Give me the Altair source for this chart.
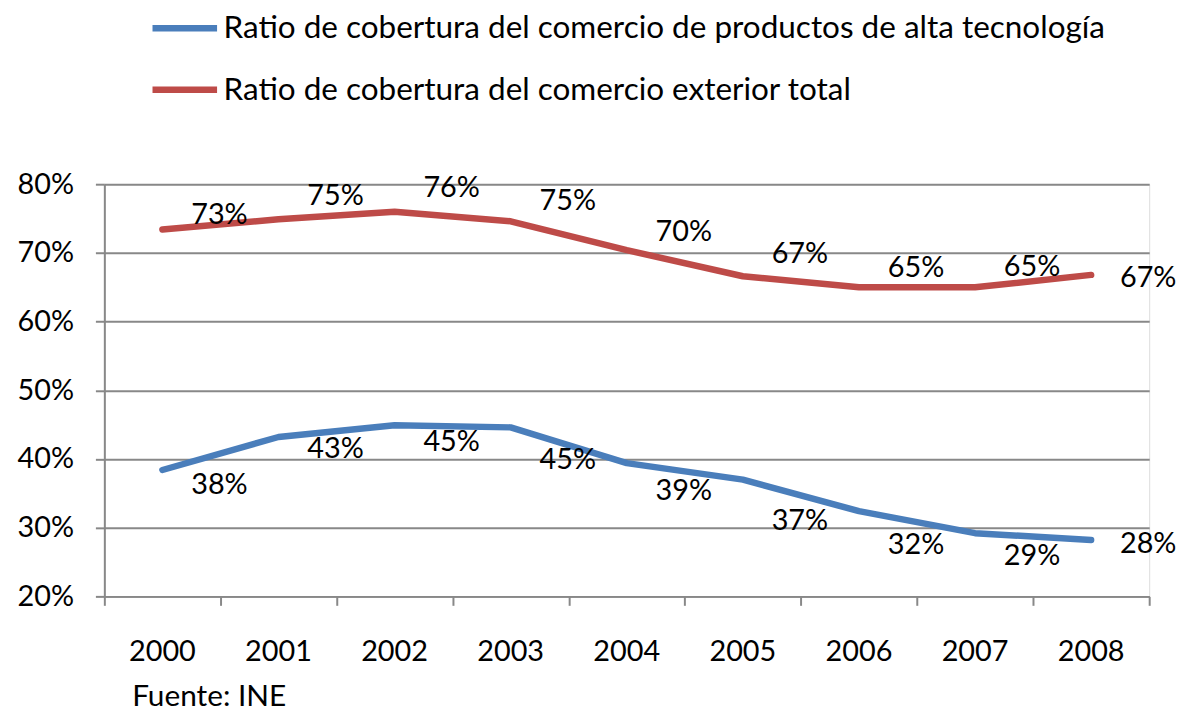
import altair as alt
import pandas as pd

years = [2000, 2001, 2002, 2003, 2004, 2005, 2006, 2007, 2008]
serie_alta = "Ratio de cobertura del comercio de productos de alta tecnología"
serie_total = "Ratio de cobertura del comercio exterior total"
alta = [0.384, 0.432, 0.449, 0.446, 0.394, 0.370, 0.324, 0.292, 0.282]
total = [0.734, 0.749, 0.760, 0.746, 0.704, 0.666, 0.650, 0.650, 0.668]
y_ticks = [0.2, 0.3, 0.4, 0.5, 0.6, 0.7, 0.8]
source_note = "Fuente: INE"

# label placement offsets (pixels, style only; positive = downwards)
alta_label_dy = [15, 12, 17, 33, 28, 42, 34, 23, 4]
total_label_dy = [-15, -23, -24, -20, -18, -22, -19, -20, 3]

rows = []
for i, yr in enumerate(years):
    rows.append({"year": yr, "value": alta[i], "serie": serie_alta, "dy": alta_label_dy[i]})
for i, yr in enumerate(years):
    rows.append({"year": yr, "value": total[i], "serie": serie_total, "dy": total_label_dy[i]})
df = pd.DataFrame(rows)
df_years = pd.DataFrame({"year": years})

FONT = "Lato"
FS = 29
GRID = "#888888"
PLOT_W = 1052
PLOT_H = 415
Y_MIN, Y_MAX = 0.2, 0.8
PX_PER_UNIT = PLOT_H / (Y_MAX - Y_MIN)

x_ticks = [y - 0.5 for y in years] + [years[-1] + 0.5]

x_axis = alt.Axis(
    values=x_ticks, grid=False, title=None, labels=False,
    tickSize=9, tickWidth=2, tickColor=GRID,
    domainColor=GRID, domainWidth=2,
)
y_axis = alt.Axis(
    values=y_ticks, format=".0%", title=None,
    labelFont=FONT, labelFontSize=FS, labelColor="black", labelPadding=22,
    grid=True, gridColor=GRID, gridWidth=2,
    tickSize=9, tickWidth=2, tickColor=GRID,
    domainColor=GRID, domainWidth=2,
)
x_scale = alt.Scale(domain=[years[0] - 0.5, years[-1] + 0.5], nice=False, zero=False)
y_scale = alt.Scale(domain=[Y_MIN, Y_MAX], nice=False, zero=False)

lines = alt.Chart(df).mark_line(strokeWidth=6.5, strokeCap="round", strokeJoin="round").encode(
    x=alt.X("year:Q", scale=x_scale, axis=x_axis),
    y=alt.Y("value:Q", scale=y_scale, axis=y_axis),
    color=alt.Color(
        "serie:N",
        scale=alt.Scale(domain=[serie_alta, serie_total], range=["#4a7ebb", "#be4b48"]),
        sort=[serie_alta, serie_total],
        legend=alt.Legend(
            orient="none", legendX=45, legendY=-193, title=None,
            symbolType="stroke", symbolSize=4225, symbolStrokeWidth=6.5,
            labelFont=FONT, labelFontSize=31.7, labelColor="black", labelLimit=1200,
            labelOffset=3, rowPadding=9, padding=0, direction="vertical",
        ),
    ),
)

labels = alt.Chart(df).transform_calculate(
    xl="datum.year + 0.5",
    ly=f"datum.value - datum.dy / {PX_PER_UNIT}",
).mark_text(
    font=FONT, fontSize=FS, color="black", align="center", baseline="middle", dx=-1
).encode(
    x=alt.X("xl:Q", scale=x_scale, axis=x_axis),
    y=alt.Y("ly:Q", scale=y_scale, axis=y_axis),
    text=alt.Text("value:Q", format=".0%"),
)

year_labels = alt.Chart(df_years).mark_text(
    font=FONT, fontSize=FS, color="black", align="center", baseline="middle", dy=56
).encode(
    x=alt.X("year:Q", scale=x_scale, axis=x_axis),
    y=alt.datum(Y_MIN),
    text=alt.Text("year:Q", format="d"),
)

chart = alt.layer(lines, labels, year_labels).properties(
    width=PLOT_W, height=PLOT_H,
    padding={"left": 97, "top": 175, "right": 28, "bottom": 114},
    autosize="none",
    title=alt.TitleParams(
        source_note, orient="bottom", anchor="start", frame="group", font=FONT, fontSize=30,
        fontWeight="normal", color="black", dx=28, offset=15,
    ),
).configure_view(stroke=None).configure(font=FONT)

chart.save("out.html", embed_options={"renderer": "svg", "actions": False})
